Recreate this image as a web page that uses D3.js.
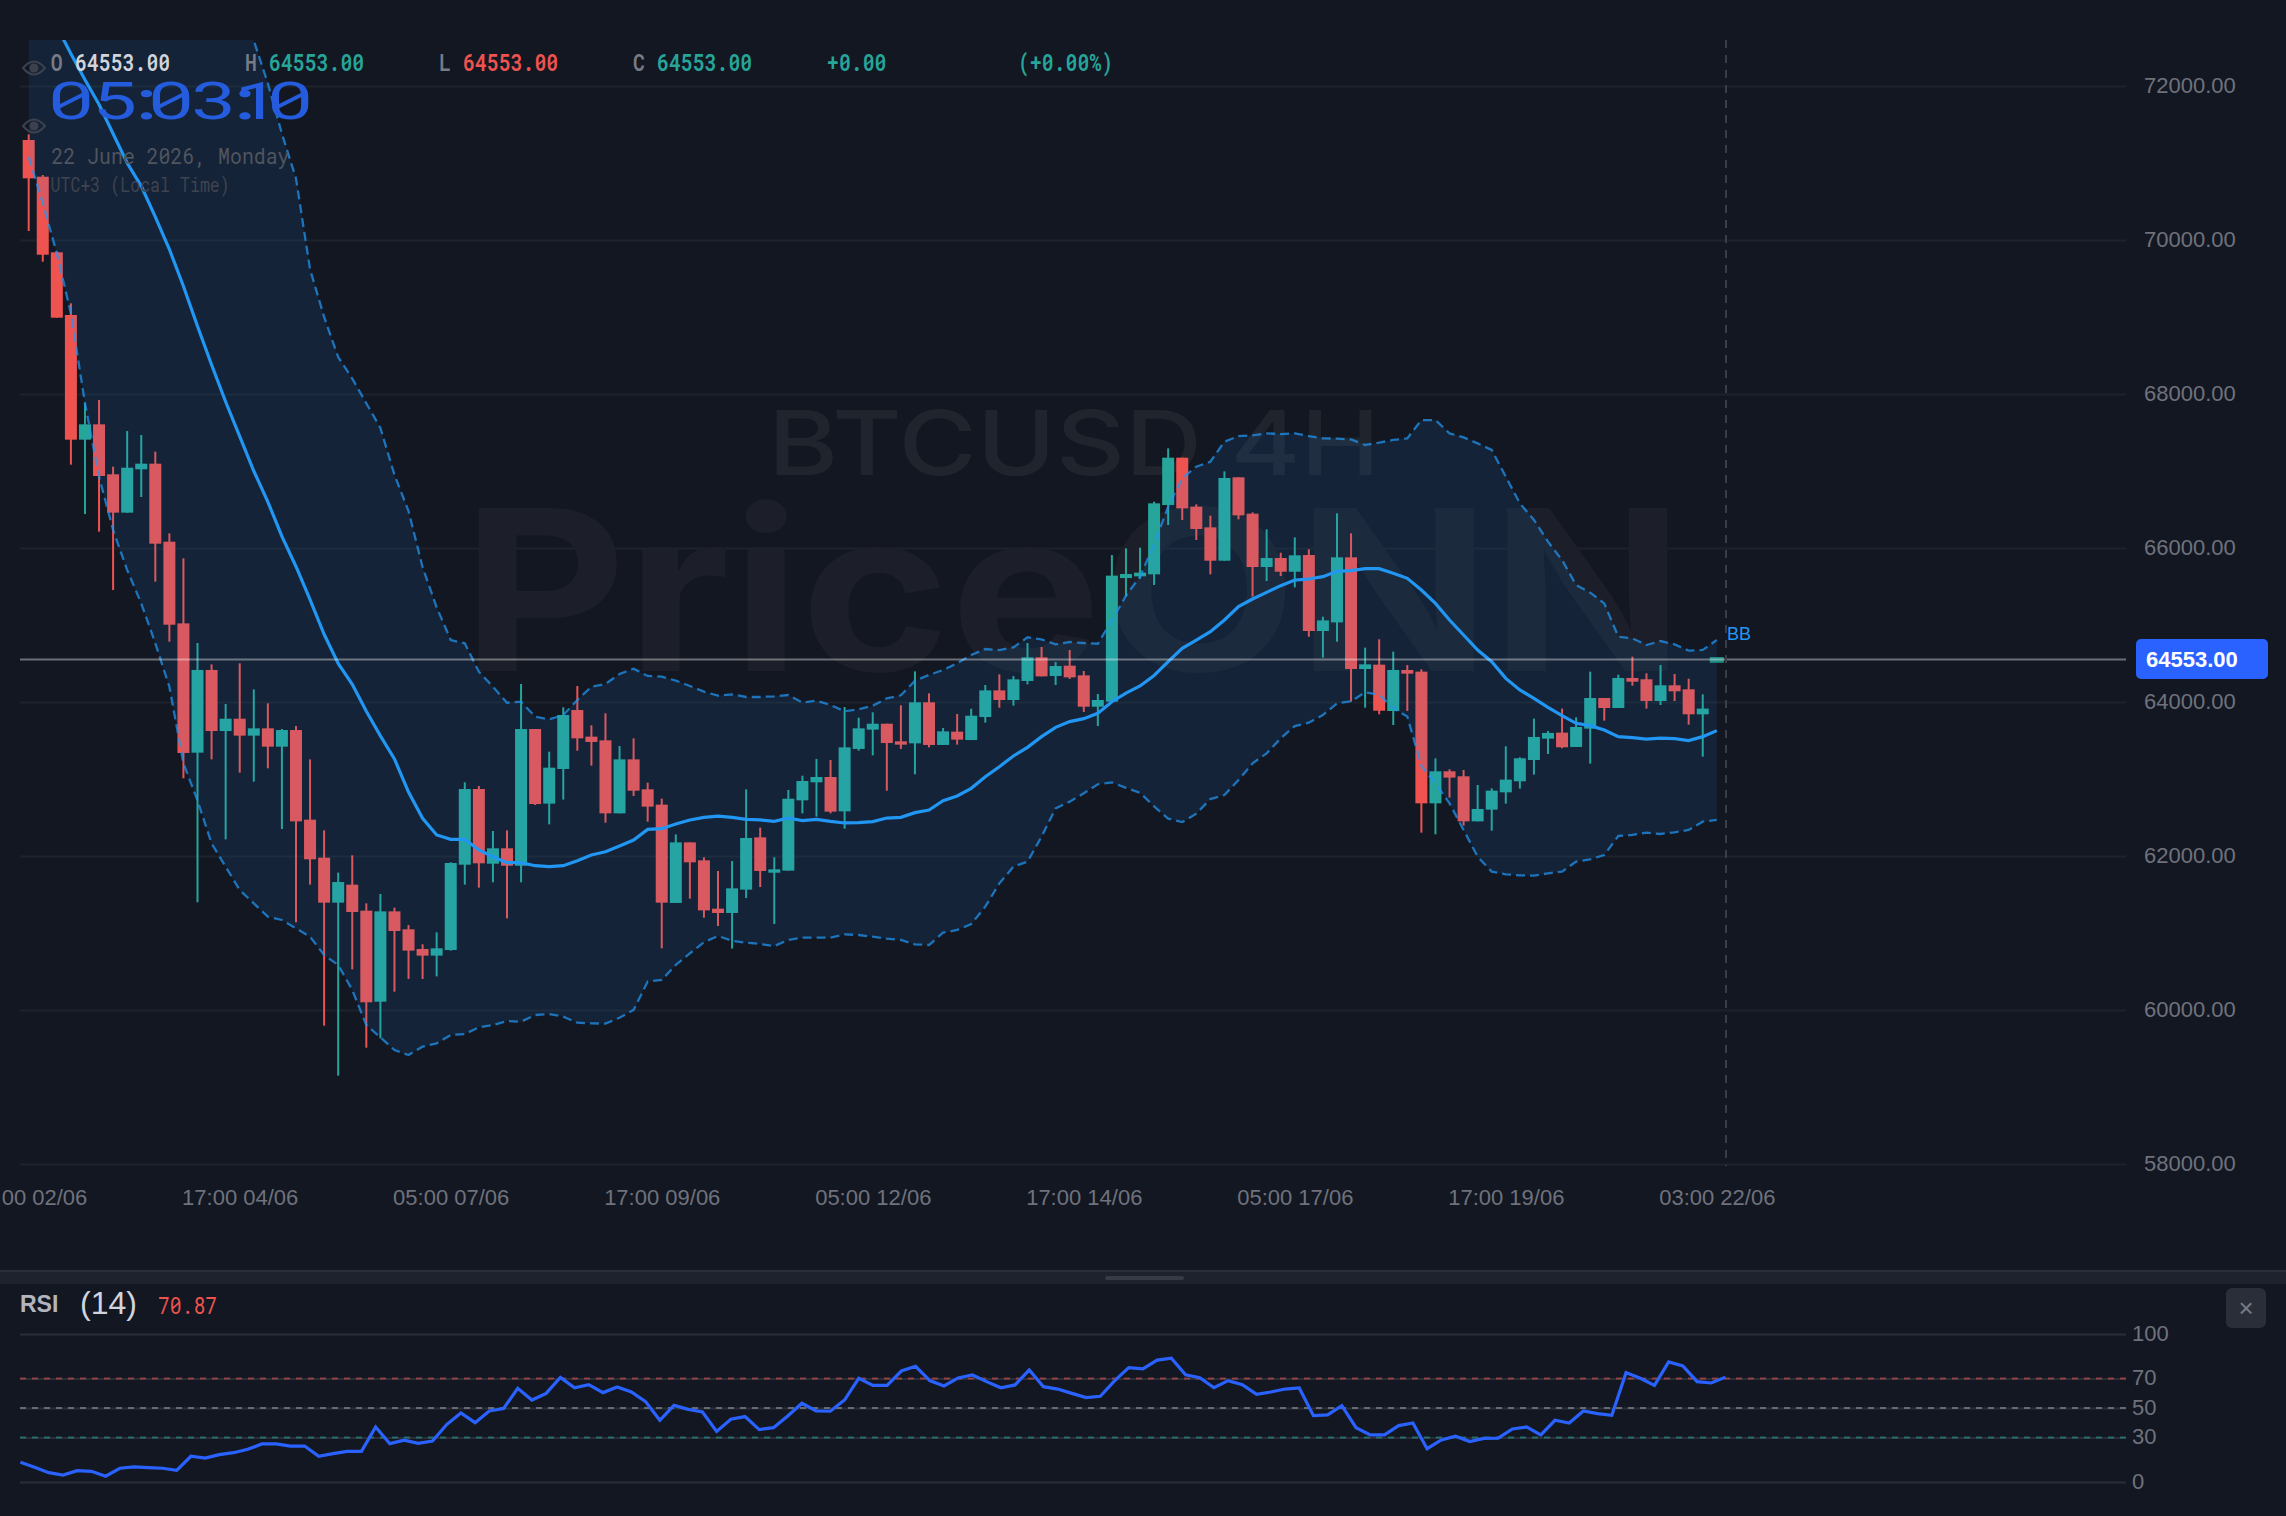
<!DOCTYPE html>
<html>
<head>
<meta charset="utf-8">
<title>BTCUSD 4H</title>
<script src="https://cdnjs.cloudflare.com/ajax/libs/d3/7.8.5/d3.min.js"></script>
<style>
  html, body { margin: 0; padding: 0; background: #131722; overflow: hidden; }
  svg { display: block; }
  .mono { font-family: "Roboto Mono", "DejaVu Sans Mono", monospace; }
  .sans { font-family: "Liberation Sans", Arial, sans-serif; }
</style>
</head>
<body>
<div id="chart"></div>
<script>
// 4H candles, oldest first
const opens = [71299,70822,69840,69026,67407,67606,66957,66459,67022,67095,66082,65021,63342,64416,63623,63783,63563,63658,63420,63636,62472,61978,61394,61628,61290,60108,61281,61048,60792,60706,60779,61887,62870,61900,62100,61874,63649,62680,63130,63896,63550,63502,62554,63255,62866,62667,61390,62177,61944,61316,61260,61563,62242,61783,61810,62723,62957,63026,62580,63390,63641,63718,63489,63463,63996,63442,63615,63506,63805,64151,64026,64273,64580,64338,64472,64346,63939,64004,65610,65632,65658,66558,67173,66537,66268,65835,66918,66446,65753,65870,65692,65909,64922,65034,65879,64428,64485,63883,64416,64394,62684,63100,63035,62450,62602,62827,62970,63247,63524,63602,63416,63654,64052,63922,64312,64295,64013,64217,64165,63840,64553];
const highs = [71372,70844,69850,69177,67879,67922,67056,67519,67467,67251,66190,65866,64766,64489,63974,64502,64164,63983,63649,63688,63255,62333,61784,62009,61385,61507,61329,61104,60853,61009,61918,62957,62909,62325,62333,64234,63649,63355,63931,64208,63697,63853,63428,63528,62952,62745,62281,62177,61983,61805,61935,62866,62368,61983,62857,63043,63260,63247,63935,63796,63866,63718,63957,64398,64112,63662,63844,63913,64221,64359,64338,64766,64714,64519,64675,64403,64104,65909,65996,66004,66602,67294,67173,66567,66420,66996,66918,66463,66242,65939,66138,65983,65108,66450,66190,64706,64814,64654,64480,64424,63269,63126,63117,62922,62879,63425,63282,63784,63624,63914,63801,64394,64052,64355,64589,64373,64481,64364,64303,64100,64553];
const lows = [70117,69718,68991,67082,66441,66212,65454,66459,66662,65563,64783,63009,61398,63255,62216,63082,62965,63139,62351,61139,61628,59796,59147,60528,59511,59632,60238,60403,60403,60437,60771,61628,61589,61658,61190,61658,62662,62411,62732,63368,63173,62433,62554,62779,62446,60801,61390,61446,61199,61091,60797,61454,61597,61117,61810,62554,62511,62554,62355,63368,63307,62848,63390,63061,63411,63442,63446,63506,63732,63926,63952,64229,64333,64221,64299,63870,63688,64004,65368,65600,65519,66299,66364,66104,65658,65835,66372,65368,65571,65636,65489,64848,64576,64783,64004,63926,63840,63701,63883,62303,62282,62758,62394,62450,62329,62680,62875,63057,63325,63399,63416,63199,63758,63922,64212,63914,63961,64013,63706,63290,64553];
const closes = [70801,69809,68991,67407,67606,66935,66459,67043,67095,66056,65004,63338,64416,63623,63783,63563,63658,63420,63636,62450,61957,61394,61662,61273,60100,61281,61026,60771,60706,60801,61909,62870,61905,62100,61874,63649,62675,63147,63831,63528,63481,62554,63255,62848,62641,61394,62177,61918,61294,61260,61580,62234,61805,61827,62744,62974,63026,62576,63411,63658,63718,63467,63446,63996,63442,63619,63511,63822,64151,64026,64294,64580,64333,64467,64320,63939,64026,65641,65662,65680,66580,67173,66515,66247,65835,66909,66424,65753,65870,65692,65905,64922,65060,65879,64428,64489,63887,64416,64368,62684,63100,63018,62450,62611,62849,62992,63269,63546,63598,63412,63676,64052,63922,64312,64264,64013,64217,64139,63840,63914,64553];

// Bollinger bands: basis, upper and lower envelope for each candle
const bbBasis = [73400,73050,72770,72420,72080,71760,71380,71000,70700,70300,69880,69400,68880,68380,67900,67450,67000,66600,66150,65760,65330,64880,64500,64230,63880,63560,63260,62830,62490,62273,62216,62216,62078,61991,61913,61913,61874,61861,61874,61939,62013,62056,62130,62208,62346,62355,62416,62468,62502,62519,62502,62476,62468,62450,62493,62459,62476,62450,62429,62433,62446,62493,62502,62563,62597,62719,62779,62879,63030,63160,63299,63411,63550,63671,63745,63784,63853,64004,64116,64208,64345,64524,64697,64805,64913,65065,65238,65338,65424,65511,65584,65597,65628,65697,65706,65731,65731,65671,65606,65454,65281,65065,64870,64675,64524,64307,64156,64047,63931,63822,63723,63693,63636,63550,63537,63519,63532,63524,63498,63550,63628];
const bbUpper = [78400,78100,77800,77500,77150,76800,76450,76100,75750,75400,75050,74700,74350,74000,73550,73100,72590,72034,71380,70800,69620,69000,68480,68200,67880,67560,66950,66480,65750,65230,64805,64762,64394,64199,63991,64004,63809,63775,63831,64026,64199,64234,64364,64433,64338,64329,64277,64208,64134,64082,64099,64065,64065,64074,64091,63991,64017,63961,63879,63905,63952,64048,64087,64277,64351,64416,64502,64610,64688,64675,64710,64840,64814,64749,64779,64766,64757,65060,65380,65628,66050,66537,66905,67056,67121,67381,67454,67463,67489,67480,67489,67454,67424,67420,67411,67338,67368,67403,67424,67662,67662,67489,67437,67359,67273,66926,66580,66364,66082,65844,65519,65420,65281,64848,64827,64740,64792,64749,64667,64676,64806];
const bbLower = [71082,70476,69827,69047,67879,66926,66234,65714,65281,64762,64199,63203,62720,62164,61862,61558,61385,61212,61169,61060,60952,60714,60584,60260,59805,59645,59480,59416,59524,59567,59675,59688,59775,59805,59857,59848,59935,59948,59913,59835,59827,59823,59900,60000,60370,60390,60585,60735,60880,60961,60900,60874,60857,60831,60909,60939,60939,60939,60983,60974,60952,60926,60909,60853,60844,61004,61039,61117,61342,61645,61861,61926,62251,62619,62706,62814,62931,62955,62885,62822,62645,62485,62440,62550,62740,62792,62987,63203,63333,63528,63688,63731,63831,63983,64008,64126,64096,63918,63810,63170,62944,62684,62338,61992,61797,61762,61749,61745,61775,61797,61927,61957,62013,62260,62273,62303,62286,62308,62338,62446,62468];

// Relative strength index, 14 periods
const rsiValues = [13.3,9.9,6.3,4.7,7.7,7.2,3.9,9.3,10.2,9.7,9.3,7.9,17.4,16.2,18.5,19.8,22.1,25.7,25.7,24.3,24.3,17.4,19.2,20.7,20.7,37.2,25.9,28.2,26.1,27.7,38.8,46.6,40.1,48,49.6,63.3,55.4,59.9,70.7,63.7,65.8,60.4,64.2,60.8,54.3,41.7,51.8,49.1,47.3,34.2,42.4,44.2,35.4,36.7,44.6,53.2,48,47.8,55.4,70,65.3,65.3,75,78.2,68.5,64.9,70.3,72.3,67.8,63.7,65.6,75.7,64.4,62.8,59.9,57,57.9,68.3,77.3,76.4,82.4,83.6,72.5,70.5,63.7,68.5,65.8,59.2,60.8,62.8,63.5,44.8,45.3,51.6,36.7,31.8,31.8,38.1,39.9,22.5,28.4,30.9,27.3,29.5,29.7,35.8,37.2,31.8,41.7,39.9,48,46.2,45.1,73.9,70.1,65.3,81.1,78.4,67.8,66.9,70.87];

const priceTicks = [58000,60000,62000,64000,66000,68000,70000,72000];
const timeTickIndex = [0,15,30,45,60,75,90,105,120];
const timeTickLabels = ["05:00 02/06","17:00 04/06","05:00 07/06","17:00 09/06","05:00 12/06","17:00 14/06","05:00 17/06","17:00 19/06","03:00 22/06"];
const rsiTicks = [0,30,50,70,100];
const lastPrice = 64553;

const WIDTH = 2286, HEIGHT = 1516;
const UP = "#26a69a", DOWN = "#ef5350", BAND = "#2196f3", MUTED = "#6f727c";
const barCount = closes.length;

const svg = d3.select("#chart").append("svg").attr("width", WIDTH).attr("height", HEIGHT);
svg.append("rect").attr("width", WIDTH).attr("height", HEIGHT).attr("fill", "#131722");

const x = d3.scaleLinear().domain([0, barCount - 1]).range([28.7, 1716.8]);
const y = d3.scaleLinear().domain([58000, 72000]).range([1164, 86]);
const xRsi = d3.scaleLinear().domain([0, barCount - 1]).range([20.4, 1725.5]);
const yRsi = d3.scaleLinear().domain([0, 100]).range([1482, 1334]);

svg.append("defs").append("clipPath").attr("id", "pane")
  .append("rect").attr("x", 20).attr("y", 40).attr("width", 2106).attr("height", 1124);

// Price grid and axis
const yAxis = d3.axisRight(y).tickValues(priceTicks).tickFormat(d => d3.format(".2f")(d)).tickSize(2106).tickPadding(18);
const yAxisG = svg.append("g").attr("transform", "translate(20,0)").call(yAxis);
yAxisG.select(".domain").remove();
yAxisG.selectAll("line").attr("stroke", "#1e222b").attr("stroke-width", 2);
yAxisG.selectAll("text").attr("class", "sans").attr("font-size", 22).attr("fill", MUTED).attr("dy", "0.29em");

// Time axis, labels only
const timeAxis = d3.axisBottom(x).tickValues(timeTickIndex)
  .tickFormat(d => timeTickLabels[timeTickIndex.indexOf(d)]).tickSize(0).tickPadding(0);
const timeG = svg.append("g").attr("transform", "translate(0,1189)").call(timeAxis);
timeG.select(".domain").remove();
timeG.selectAll("text").attr("class", "sans").attr("font-size", 22).attr("fill", MUTED);

// Watermark
const wm = svg.append("g").attr("font-family", "Inter, 'Liberation Sans', sans-serif");
wm.append("text").attr("x", 768).attr("y", 475).attr("font-size", 90).attr("font-weight", 500)
  .attr("textLength", 612).attr("lengthAdjust", "spacingAndGlyphs")
  .attr("fill", "#20242d").text("BTCUSD 4H");
wm.append("text").attr("x", 462).attr("y", 671).attr("font-size", 224).attr("font-weight", 700)
  .attr("textLength", 1222).attr("lengthAdjust", "spacingAndGlyphs")
  .attr("fill", "#1c1f29").text("PriceONN");

const pane = svg.append("g").attr("clip-path", "url(#pane)");

// Candles sit under the band fill, which tints them
const candles = pane.append("g");
const idx = d3.range(barCount);
const color = i => closes[i] >= opens[i] ? UP : DOWN;
candles.selectAll("line").data(idx.slice(0, -1)).join("line")
  .attr("x1", x).attr("x2", x)
  .attr("y1", i => y(highs[i])).attr("y2", i => y(lows[i]))
  .attr("stroke", color).attr("stroke-width", 2);
candles.selectAll("rect").data(idx.slice(0, -1)).join("rect")
  .attr("x", i => x(i) - 6).attr("width", 12)
  .attr("y", i => y(Math.max(opens[i], closes[i])))
  .attr("height", i => Math.max(2, Math.abs(y(opens[i]) - y(closes[i]))))
  .attr("fill", color);

// Bollinger band fill
const bandArea = d3.area().x((d, i) => x(i)).y0((d, i) => y(bbLower[i])).y1(d => y(d));
pane.append("path").datum(bbUpper).attr("d", bandArea).attr("fill", BAND).attr("fill-opacity", 0.1);

// Open candle, a flat wide bar at the last price
const liveBar = barCount - 1;
pane.append("rect")
  .attr("x", x(liveBar) - 7).attr("width", 14)
  .attr("y", y(closes[liveBar]) - 2.4).attr("height", 5.8)
  .attr("fill", UP).attr("fill-opacity", 0.8);

// Crosshair at the last price and the live bar
const hair = svg.append("g");
hair.append("line").attr("x1", 20).attr("x2", 2126).attr("y1", y(lastPrice)).attr("y2", y(lastPrice))
  .attr("stroke", "#ffffff").attr("stroke-opacity", 0.38).attr("stroke-width", 2);
hair.append("line").attr("x1", 1726).attr("x2", 1726).attr("y1", 40).attr("y2", 1166)
  .attr("stroke", "#3a3e49").attr("stroke-width", 2).attr("stroke-dasharray", "8 7");

// Band outlines and basis
const priceLine = d3.line().x((d, i) => x(i)).y(d => y(d));
[bbUpper, bbLower].forEach(series => {
  pane.append("path").datum(series).attr("d", priceLine).attr("fill", "none")
    .attr("stroke", BAND).attr("stroke-opacity", 0.72).attr("stroke-width", 2.3).attr("stroke-dasharray", "9 5");
});
pane.append("path").datum(bbBasis).attr("d", priceLine).attr("fill", "none")
  .attr("stroke", BAND).attr("stroke-width", 3.2);

svg.append("text").attr("class", "sans").attr("x", 1727).attr("y", 640).attr("font-size", 18)
  .attr("fill", BAND).text("BB");

// Last price tag
svg.append("rect").attr("x", 2136).attr("y", 639).attr("width", 132).attr("height", 40).attr("rx", 5)
  .attr("fill", "#2962ff");
svg.append("text").attr("class", "sans").attr("x", 2146).attr("y", 667).attr("font-size", 22)
  .attr("font-weight", 700).attr("fill", "#ffffff").text(d3.format(".2f")(lastPrice));

// Condensed monospace text: the advance is forced through textLength
function monoText(px, py, size, advance, str, fill, weight) {
  return svg.append("text").attr("class", "mono").attr("x", px).attr("y", py)
    .attr("font-size", size).attr("font-weight", weight)
    .attr("textLength", str.length * advance).attr("lengthAdjust", "spacingAndGlyphs")
    .attr("fill", fill).text(str);
}

// OHLC header row
const headerItems = [
  { x: 50.7, t: "O", c: "#787b86" }, { x: 75, t: "64553.00", c: "#d1d4dc" },
  { x: 245, t: "H", c: "#787b86" }, { x: 269, t: "64553.00", c: UP },
  { x: 439, t: "L", c: "#787b86" }, { x: 463, t: "64553.00", c: DOWN },
  { x: 633, t: "C", c: "#787b86" }, { x: 657, t: "64553.00", c: UP },
  { x: 827, t: "+0.00", c: UP }, { x: 1018, t: "(+0.00%)", c: UP }
];
headerItems.forEach(d => monoText(d.x, 71, 23.5, 11.9, d.t, d.c, 600));

// Visibility eyes beside the legend rows
const eyes = svg.append("g").attr("fill", "none").attr("stroke", "#3c414d").attr("stroke-width", 2);
[68, 126].forEach(cy => {
  eyes.append("path").attr("d", `M23 ${cy} Q34 ${cy - 13} 45 ${cy} Q34 ${cy + 13} 23 ${cy} Z`);
  eyes.append("circle").attr("cx", 34).attr("cy", cy).attr("r", 4.5).attr("fill", "#3c414d").attr("stroke", "none");
});

// Clock with hand-set glyph offsets, widened to the display proportions
svg.append("text").attr("class", "mono").attr("transform", "translate(0,119) scale(1.52,1)")
  .attr("x", "31.1 60.1 78.8 96.9 125.8 143.6 153.5 175.2").attr("y", 0)
  .attr("font-size", 52).attr("font-weight", 400)
  .attr("fill", "#245cdd").text("05:03:10");
monoText(51.5, 164, 22, 11.9, "22 June 2026, Monday", "#50555f", 400);
monoText(50.5, 192, 20.5, 9.96, "UTC+3 (Local Time)", "#3f4450", 400);

// Divider between the panes
svg.append("rect").attr("x", 0).attr("y", 1270).attr("width", WIDTH).attr("height", 14).attr("fill", "#1e222d");
svg.append("rect").attr("x", 0).attr("y", 1270).attr("width", WIDTH).attr("height", 2).attr("fill", "#2a2e39");
svg.append("rect").attr("x", 1105).attr("y", 1276).attr("width", 79).attr("height", 4).attr("rx", 2).attr("fill", "#363a45");

// RSI pane
const levelStyles = {
  0: { s: "#2a2e39" }, 100: { s: "#2a2e39" },
  70: { s: DOWN, o: 0.55, dash: "6 6" }, 50: { s: "#787b86", o: 0.8, dash: "6 6" }, 30: { s: UP, o: 0.55, dash: "6 6" }
};
const rsiAxis = d3.axisRight(yRsi).tickValues(rsiTicks).tickSize(2106).tickPadding(6);
const rsiG = svg.append("g").attr("transform", "translate(20,0)").call(rsiAxis);
rsiG.select(".domain").remove();
rsiG.selectAll("line").attr("stroke", "#2a2e39").attr("stroke-width", 2);
rsiG.selectAll("text").attr("class", "sans").attr("font-size", 22).attr("fill", MUTED).attr("dy", "0.29em");
rsiTicks.filter(v => levelStyles[v].dash).forEach(v => {
  svg.append("line").attr("x1", 20).attr("x2", 2126).attr("y1", yRsi(v)).attr("y2", yRsi(v))
    .attr("stroke", levelStyles[v].s).attr("stroke-opacity", levelStyles[v].o)
    .attr("stroke-width", 2).attr("stroke-dasharray", levelStyles[v].dash);
});
svg.append("path").datum(rsiValues)
  .attr("d", d3.line().x((d, i) => xRsi(i)).y(d => yRsi(d)))
  .attr("fill", "none").attr("stroke", "#2962ff").attr("stroke-width", 3.2);

svg.append("text").attr("class", "sans").attr("x", 20).attr("y", 1312).attr("font-size", 23)
  .attr("font-weight", 700).attr("fill", "#b2b5be").text("RSI");
svg.append("text").attr("class", "sans").attr("x", 80).attr("y", 1314).attr("font-size", 32)
  .attr("fill", "#d1d4dc").text("(14)");
monoText(158, 1314, 24, 11.8, d3.format(".2f")(rsiValues[barCount - 1]), DOWN, 400);

// Close button of the pane
svg.append("rect").attr("x", 2226).attr("y", 1288).attr("width", 40).attr("height", 40).attr("rx", 6).attr("fill", "#2a2e39");
svg.append("text").attr("class", "sans").attr("x", 2246).attr("y", 1317).attr("text-anchor", "middle")
  .attr("font-size", 26).attr("fill", "#787b86").text("×");
</script>
</body>
</html>
